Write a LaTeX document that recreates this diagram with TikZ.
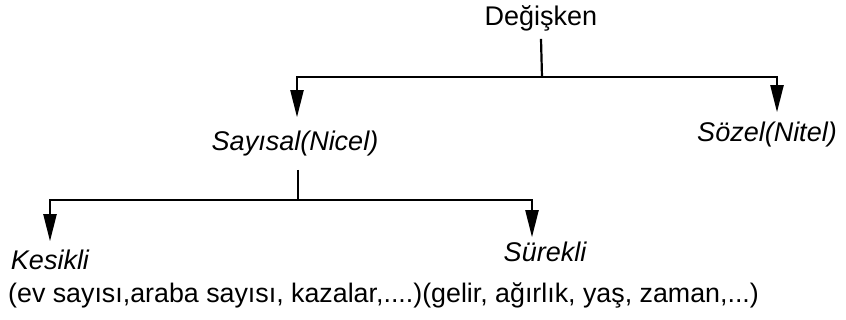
\documentclass[tikz,border=0pt]{standalone}
\usepackage{fontspec}
\setmainfont{Liberation Sans}
\usetikzlibrary{arrows.meta}
\begin{document}
\begin{tikzpicture}[x=1pt,y=-1pt,
  lbl/.style={inner sep=0pt,anchor=base,font=\fontsize{27}{32}\selectfont},
  ilbl/.style={lbl,font=\fontsize{27}{32}\selectfont\itshape},
  conn/.style={line width=2.2pt},
  arr/.style={conn,-{Triangle[length=27pt,width=13pt]}}]
\useasboundingbox (0,0) rectangle (846,320);
\node[lbl] (deg) at (541,26) {Değişken};
\node[ilbl] (say) at (295,151) {Sayısal(Nicel)};
\node[ilbl] (soz) at (767,142) {Sözel(Nitel)};
\node[ilbl] (kes) at (50,270) {Kesikli};
\node[ilbl] (sur) at (545,262) {Sürekli};
\node[lbl,anchor=base west,font=\fontsize{26.8}{32}\selectfont] (ex) at (8,303) {(ev sayısı,araba sayısı, kazalar,....)(gelir, ağırlık, yaş, zaman,...)};
\coordinate (j1) at (542,77);
\coordinate (j2) at (298,200);
\draw[conn] ([yshift=-7pt]deg.south) -- (j1);
\draw[arr] (j1) -| ([xshift=2pt,yshift=14pt]say.north);
\draw[arr] (j1) -| ([xshift=10pt,yshift=10pt]soz.north);
\draw[conn] ([xshift=3pt,yshift=-13pt]say.south) -- (j2);
\draw[arr] (j2) -| ([yshift=9pt]kes.north);
\draw[arr] (j2) -| ([xshift=-13pt,yshift=5pt]sur.north);
\end{tikzpicture}
\end{document}
